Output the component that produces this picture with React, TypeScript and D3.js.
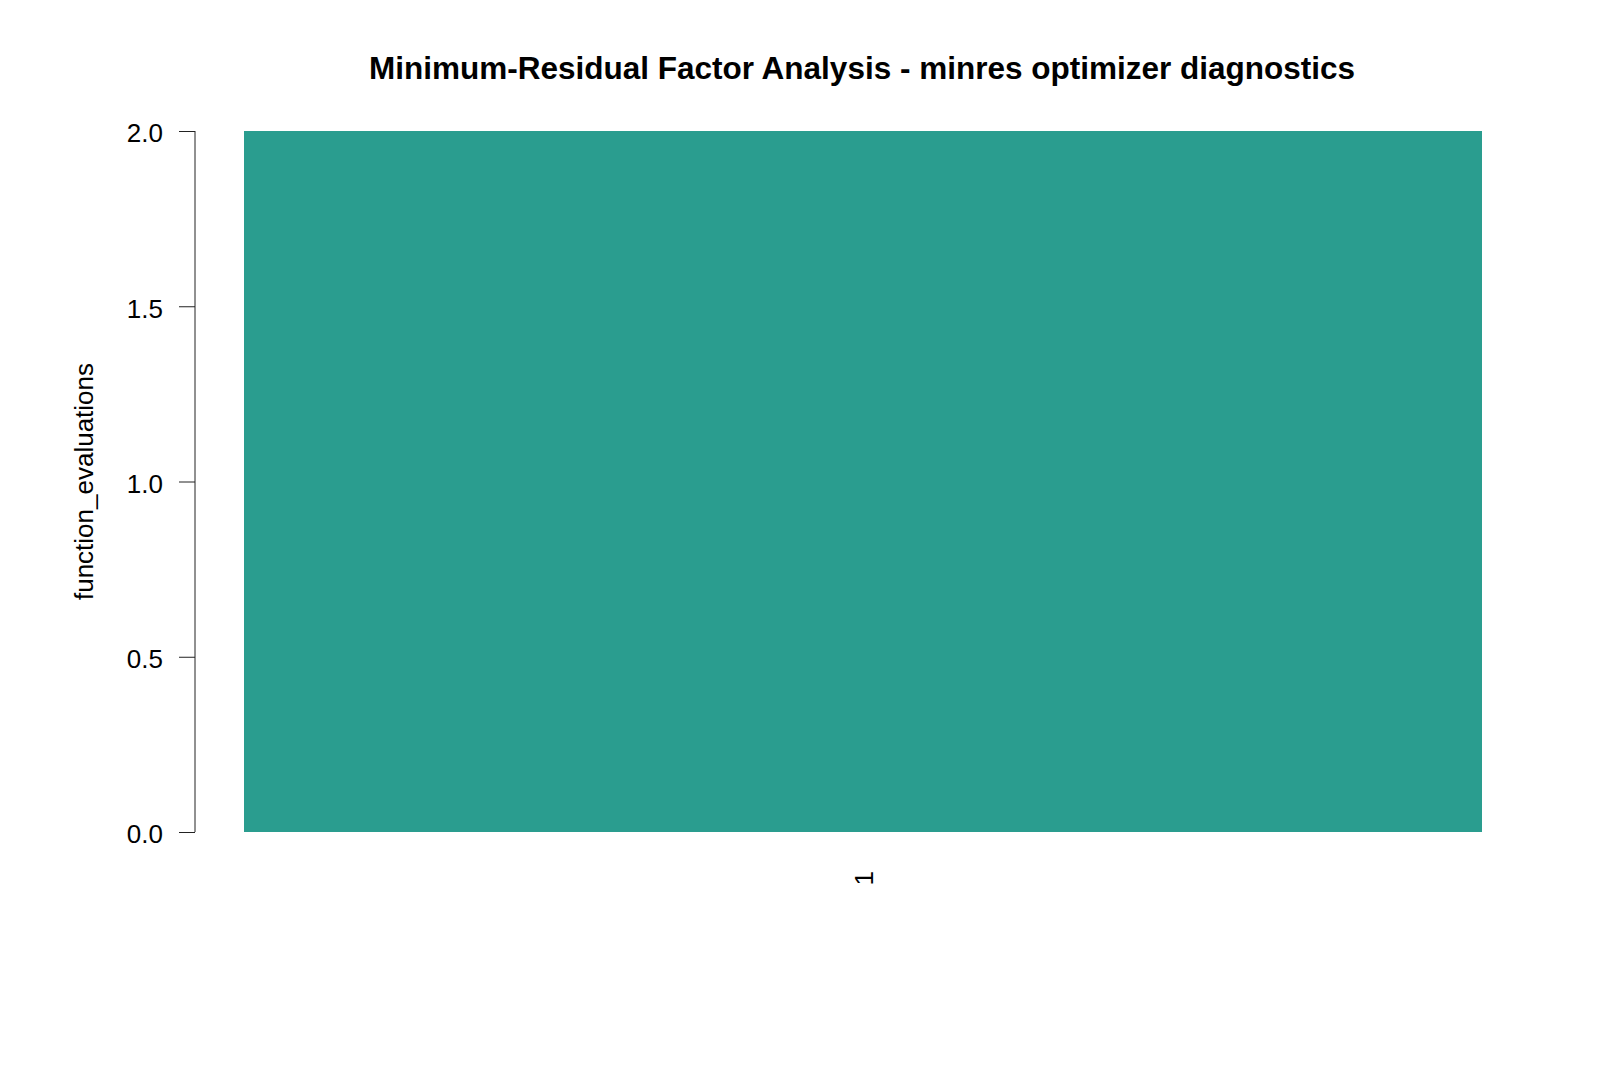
import * as React from 'react';
import * as d3 from 'd3';

// chart data
const categories = ['1'];
const functionEvaluations = [2];
const yTickValues = [0, 0.5, 1, 1.5, 2];

const title = 'Minimum-Residual Factor Analysis - minres optimizer diagnostics';
const yLabel = 'function_evaluations';
const barColor = '#2A9D8F';

const width = 1600;
const height = 1067;
const axisX = 195;
const plotTop = 131;
const plotBottom = 832;
const font = '"Liberation Sans", Arial, sans-serif';

const App = () => {
  const axisRef = React.useRef<SVGGElement>(null);

  // single bar spans the whole band, like R's barplot with one value
  const x = d3.scaleBand()
    .domain(categories)
    .range([244, 1482])
    .padding(0);

  const y = d3.scaleLinear()
    .domain([0, 2])
    .range([plotBottom, plotTop]);

  React.useEffect(() => {
    const g = d3.select(axisRef.current);
    g.selectAll('*').remove();
    const yAxis = d3.axisLeft(y)
      .tickValues(yTickValues)
      .tickSize(16)
      .tickPadding(16)
      .tickFormat((d: any) => d3.format('.1f')(d));
    g.call(yAxis);
    g.select('.domain')
      .attr('d', `M0,${y(0)}V${y(2)}`)
      .attr('stroke', '#222');
    g.selectAll('.tick line').attr('stroke', '#222');
    g.selectAll('.tick text')
      .attr('font-family', font)
      .attr('font-size', 26)
      .attr('dy', '0.42em')
      .attr('fill', '#000');
  }, []);

  return (
    <svg width={width} height={height} style={{ display: 'block', margin: '-8px', background: '#fff' }}>
      <text
        x={862}
        y={79}
        textAnchor="middle"
        fontFamily={font}
        fontWeight="bold"
        fontSize={31.5}
      >
        {title}
      </text>

      {categories.map((c, i) => (
        <rect
          key={c}
          x={x(c)}
          y={y(functionEvaluations[i])}
          width={x.bandwidth()}
          height={y(0) - y(functionEvaluations[i])}
          fill={barColor}
        />
      ))}

      <g ref={axisRef} transform={`translate(${axisX},0)`} />

      {categories.map((c) => (
        <text
          key={`lab-${c}`}
          transform={`translate(${(x(c) as number) + x.bandwidth() / 2 + 10},${871}) rotate(-90)`}
          textAnchor="end"
          fontFamily={font}
          fontSize={26}
        >
          {c}
        </text>
      ))}

      <text
        transform={`translate(${93},${(plotTop + plotBottom) / 2}) rotate(-90)`}
        textAnchor="middle"
        fontFamily={font}
        fontSize={26}
      >
        {yLabel}
      </text>
    </svg>
  );
};

export default App;
